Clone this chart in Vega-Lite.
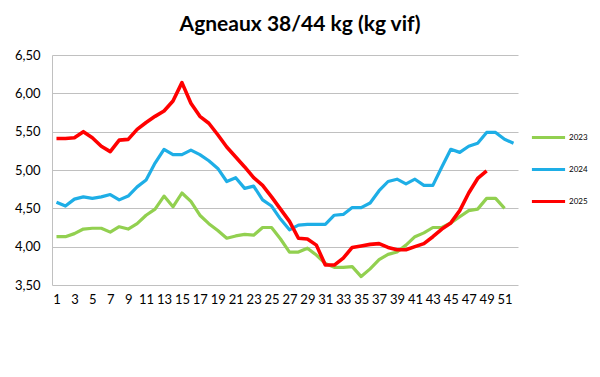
{
  "$schema": "https://vega.github.io/schema/vega-lite/v6.json",
  "autosize": {"type": "none"},
  "padding": {"left": 52, "top": 55, "right": 82, "bottom": 92},
  "width": 466,
  "height": 230,
  "background": "white",
  "title": {"text": "Agneaux 38/44 kg (kg vif)", "font": "Lato", "fontSize": 21, "fontWeight": "bold", "color": "#000000", "anchor": "middle", "dx": 15, "offset": 14},
  "datasets": {
    "s2023": [4.13,4.13,4.17,4.23,4.24,4.24,4.19,4.26,4.23,4.30,4.41,4.49,4.66,4.52,4.70,4.59,4.41,4.30,4.21,4.11,4.14,4.16,4.15,4.25,4.25,4.10,3.93,3.93,3.98,3.89,3.78,3.73,3.73,3.74,3.61,3.71,3.83,3.90,3.93,4.02,4.13,4.18,4.25,4.25,4.31,4.39,4.47,4.49,4.63,4.63,4.50],
    "s2024": [4.58,4.53,4.62,4.65,4.63,4.65,4.68,4.61,4.66,4.78,4.87,5.09,5.27,5.20,5.20,5.26,5.20,5.12,5.02,4.85,4.90,4.76,4.79,4.61,4.53,4.36,4.22,4.28,4.29,4.29,4.29,4.41,4.42,4.51,4.51,4.57,4.73,4.85,4.88,4.82,4.88,4.80,4.80,5.04,5.27,5.23,5.31,5.35,5.49,5.49,5.40,5.35],
    "s2025": [5.41,5.41,5.42,5.50,5.42,5.31,5.24,5.39,5.40,5.53,5.62,5.70,5.77,5.90,6.14,5.87,5.70,5.61,5.46,5.30,5.17,5.04,4.90,4.80,4.65,4.49,4.33,4.11,4.10,4.02,3.76,3.76,3.85,3.99,4.01,4.03,4.04,3.99,3.96,3.96,4.00,4.04,4.13,4.23,4.31,4.47,4.70,4.89,4.99]
  },
  "encoding": {
    "x": {"field": "week", "type": "quantitative", "scale": {"domain": [0.5, 52.5], "nice": false, "zero": false}, "axis": {"title": null, "values": [1,3,5,7,9,11,13,15,17,19,21,23,25,27,29,31,33,35,37,39,41,43,45,47,49,51], "grid": false, "ticks": false, "domain": false, "labelOverlap": false, "labelFont": "Lato", "labelFontSize": 13, "labelColor": "#000000", "labelPadding": 8, "labelFlush": false}},
    "y": {"field": "data", "type": "quantitative", "scale": {"domain": [3.5, 6.5], "nice": false, "zero": false}, "axis": {"title": null, "values": [3.5,4,4.5,5,5.5,6,6.5], "labelOverlap": false, "labelExpr": "replace(format(datum.value, '.2f'), '.', ',')", "grid": true, "gridColor": "#C0C0C0", "gridWidth": 1, "ticks": false, "domain": true, "domainColor": "#C0C0C0", "labelFont": "Lato", "labelFontSize": 13, "labelColor": "#000000", "labelPadding": 12, "labelFlush": false}},
    "color": {"field": "annee", "type": "nominal", "scale": {"domain": ["2023", "2024", "2025"], "range": ["#92D050", "#1EAEE6", "#FF0000"]}, "legend": {"title": null, "orient": "none", "legendX": 478, "legendY": 64, "symbolType": "stroke", "symbolSize": 1100, "symbolStrokeWidth": 3, "labelFont": "Lato", "labelFontSize": 8, "labelColor": "#000000", "rowPadding": 7, "labelOffset": 2}}
  },
  "layer": [
    {
      "data": {"name": "s2023"},
      "transform": [{"window": [{"op": "row_number", "as": "week"}]}, {"calculate": "'2023'", "as": "annee"}],
      "mark": {"type": "line", "strokeWidth": 3.2, "strokeJoin": "round"}
    },
    {
      "data": {"name": "s2024"},
      "transform": [{"window": [{"op": "row_number", "as": "week"}]}, {"calculate": "'2024'", "as": "annee"}],
      "mark": {"type": "line", "strokeWidth": 3.2, "strokeJoin": "round"}
    },
    {
      "data": {"name": "s2025"},
      "transform": [{"window": [{"op": "row_number", "as": "week"}]}, {"calculate": "'2025'", "as": "annee"}],
      "mark": {"type": "line", "strokeWidth": 3.6, "strokeJoin": "round"}
    }
  ],
  "config": {"view": {"stroke": null}}
}
